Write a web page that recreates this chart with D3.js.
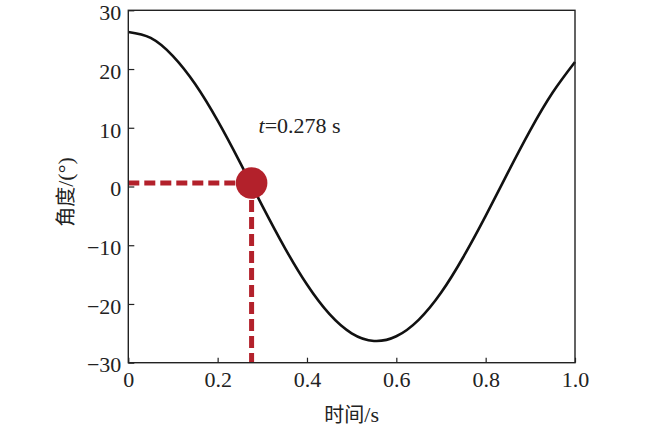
<!DOCTYPE html>
<html>
<head>
<meta charset="utf-8">
<script src="https://cdn.jsdelivr.net/npm/d3@7"></script>
<style>
  body { margin: 0; background: #fff; }
</style>
</head>
<body>
<svg width="650" height="430"></svg>
<script>
// values
const times = [0, 0.05, 0.1, 0.15, 0.2, 0.25, 0.3, 0.35, 0.4, 0.45, 0.5,
  0.55, 0.6, 0.65, 0.7, 0.75, 0.8, 0.85, 0.9, 0.95, 1.0];
const angles = [26.3, 25.3, 22.2, 17.4, 11.2, 4.1, -3.3, -10.4, -16.7, -21.7, -25.0,
  -26.3, -25.5, -22.7, -18.1, -12.0, -5.0, 2.4, 9.6, 16.0, 21.2];
const xTicks = [0, 0.2, 0.4, 0.6, 0.8, 1.0];
const yTicks = [-30, -20, -10, 0, 10, 20, 30];
const markT = 0.276;
const markAngle = 0.6;
const markLabel = '=0.278 s';

const svg = d3.select('svg');
const width = +svg.attr('width');
const height = +svg.attr('height');

const margin = { top: 10.3, right: 75, bottom: 67.3, left: 128.3 };
const innerWidth = width - margin.left - margin.right;
const innerHeight = height - margin.top - margin.bottom;

const serif = '"Liberation Serif", "Times New Roman", serif';
const cjk = '"Noto Sans CJK SC", sans-serif';
const red = '#b3212b';

const data = times.map((t, i) => ({ t: t, a: angles[i] }));

const xScale = d3.scaleLinear().domain([0, 1]).range([0, innerWidth]);
const yScale = d3.scaleLinear().domain([-30, 30]).range([innerHeight, 0]);

const g = svg.append('g')
  .attr('transform', `translate(${margin.left},${margin.top})`);

const xAxis = d3.axisBottom(xScale)
  .tickValues(xTicks)
  .tickFormat(d => d === 0 ? '0' : d3.format('.1f')(d))
  .tickSizeInner(-5)
  .tickSizeOuter(0)
  .tickPadding(9);

const yAxis = d3.axisLeft(yScale)
  .tickValues(yTicks)
  .tickFormat(d => d < 0 ? '\u2212' + Math.abs(d) : d)
  .tickSizeInner(-6)
  .tickSizeOuter(0)
  .tickPadding(7);

const xAxisG = g.append('g')
  .attr('transform', `translate(0,${innerHeight})`)
  .call(xAxis);
const yAxisG = g.append('g').call(yAxis);

[xAxisG, yAxisG].forEach(ax => {
  ax.select('.domain').remove();
  ax.selectAll('line').attr('stroke', '#222').attr('stroke-width', 1.2);
  ax.selectAll('text')
    .attr('font-family', serif)
    .attr('font-size', 22)
    .attr('fill', '#222');
});
yAxisG.selectAll('text').attr('dy', '0.42em');

// curve
const line = d3.line()
  .x(d => xScale(d.t))
  .y(d => yScale(d.a))
  .curve(d3.curveNatural);

g.append('path')
  .datum(data)
  .attr('fill', 'none')
  .attr('stroke', '#111')
  .attr('stroke-width', 2.6)
  .attr('d', line);

// marker dashes
g.append('line')
  .attr('x1', xScale(0))
  .attr('x2', xScale(markT))
  .attr('y1', yScale(markAngle))
  .attr('y2', yScale(markAngle))
  .attr('stroke', red)
  .attr('stroke-width', 5)
  .attr('stroke-dasharray', '11,5');

g.append('line')
  .attr('x1', xScale(markT))
  .attr('x2', xScale(markT))
  .attr('y1', yScale(markAngle))
  .attr('y2', yScale(-30))
  .attr('stroke', red)
  .attr('stroke-width', 5)
  .attr('stroke-dasharray', '12,5');

g.append('circle')
  .attr('cx', xScale(markT))
  .attr('cy', yScale(markAngle))
  .attr('r', 15.8)
  .attr('fill', red);

const label = g.append('text')
  .attr('x', xScale(markT) + 7)
  .attr('y', yScale(10) + 5.5)
  .attr('font-family', serif)
  .attr('font-size', 22)
  .attr('fill', '#222');
label.append('tspan').attr('font-style', 'italic').text('t');
label.append('tspan').text(markLabel);

// frame
g.append('rect')
  .attr('width', innerWidth)
  .attr('height', innerHeight)
  .attr('fill', 'none')
  .attr('stroke', '#222')
  .attr('stroke-width', 1.4);

// axis titles: CJK part and latin part in their own fonts
const axisTitle = (sel, zh, rest) => {
  sel.attr('text-anchor', 'middle')
    .attr('font-size', 20)
    .attr('fill', '#222');
  sel.append('tspan').attr('font-family', cjk).text(zh);
  sel.append('tspan').attr('font-family', serif).attr('font-size', 22).text(rest);
};

svg.append('text')
  .attr('x', margin.left + innerWidth / 2)
  .attr('y', 422)
  .call(axisTitle, '时间', '/s');

svg.append('text')
  .attr('transform', `translate(73,192) rotate(-90)`)
  .call(axisTitle, '角度', '/(°)');
</script>
</body>
</html>
